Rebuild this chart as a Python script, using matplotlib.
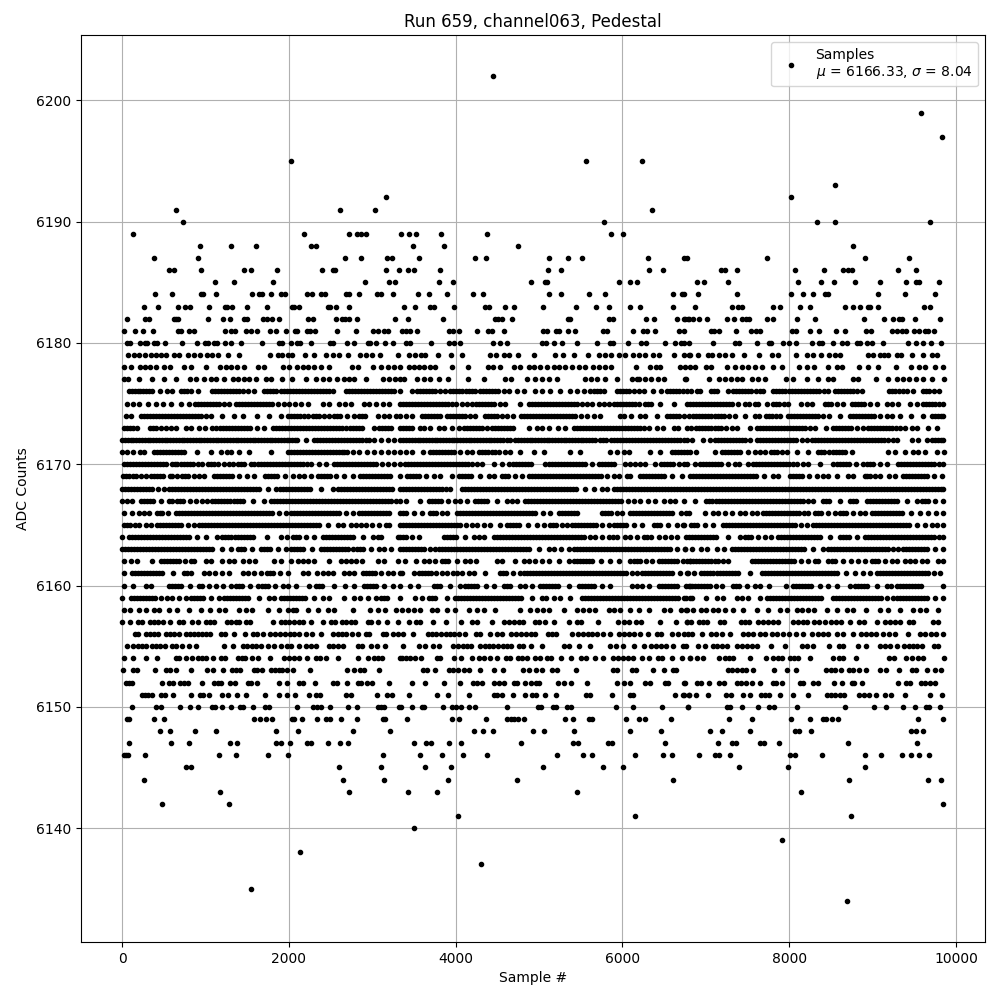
import numpy as np
import matplotlib
matplotlib.use("Agg")
import matplotlib.pyplot as plt

# sample numbers, one list per ADC level
s6202=[4444]
s6199=[9584]
s6197=[9836]
s6195=[2028,5560,6232]
s6193=[8552]
s6192=[3168,8024]
s6191=[648,2616,3036,6352]
s6190=[732,5776,8336,8552,9692]
s6189=[132,2184,2724,2816,2868,2928,3344,3436,3520,3820,4372,5860,6004]
s6188=[936,1308,1608,2268,2328,3484,3856,4744,8768]
s6187=[384,912,2676,2868,3180,3240,3556,4228,4360,5116,5344,5512,6304,6736,6772,7736,8912,9440]
s6186=[564,624,948,1464,1548,1860,2400,2532,2552,3168,3324,3424,3496,3808,5104,5260,6316,6484,7184,7232,7376,8072,8420,8648,8708,8756,9308,9524]
s6185=[1116,1344,1812,2916,3204,3268,3796,3964,4900,5068,5092,5956,6088,6172,6896,6980,7268,8108,8384,8540,8792,9092,9404,9524,9560,9800]
s6184=[396,600,948,968,1128,1560,1640,1672,1788,1908,1956,2220,2276,2388,2436,2688,2724,2844,3060,3108,3252,3544,3676,3892,4204,4324,5116,5260,5596,5788,6604,6712,6736,6908,7376,8024,8168,8288,8432,8468,9068,9392,9752]
s6183=[264,432,672,756,816,1044,1236,1264,1320,1500,1740,2040,2064,2124,2472,2496,2568,2724,3376,3508,3688,3736,3976,4348,4396,4588,4696,5044,5440,5680,5836,6088,6208,6604,6872,7316,7388,7436,7808,7892,8132,8252,8672,8768,8852,8948,8972,9068,9620,9692]
s6182=[60,272,324,624,648,672,1032,1212,1296,1464,1500,1692,1736,1800,1884,2232,2288,2568,2640,2676,2724,2816,3276,3424,3844,4468,4504,4552,4672,5344,5368,5836,5884,6280,6376,6652,6748,6796,6740,6788,6848,6920,7016,7256,7340,7436,7484,7520,7736,7808,8096,8312,8900,9140,9248,9320,9356,9512,9812]
s6181=[24,156,252,372,672,708,804,864,1236,1308,1356,1488,1548,1620,1776,1848,1968,2076,2100,2220,2256,2316,2580,2808,3012,3072,3144,3192,3356,3400,3448,3532,3916,3964,4036,4252,4384,4432,4576,5044,5092,5200,5236,5344,5428,5764,5812,6124,6244,6292,6388,6676,6736,7064,7100,7160,7364,7544,7604,7652,8036,8084,8252,8360,8564,8672,8924,8984,9236,9296,9356,9404,9500,9560,9632,9668,9740]
s6180=[60,96,216,276,300,384,420,516,720,900,996,1032,1104,1140,1236,1308,1428,1680,1884,1920,2028,2100,2136,2268,2496,2532,2700,2784,2952,2976,3048,3156,3252,3400,3448,3700,3916,3976,4048,4444,4528,4612,5032,5080,5176,5272,5452,5692,5848,5884,6064,6220,6280,6508,6628,6700,6736,6800,7088,7352,7400,7616,7760,7784,7928,8000,8084,8276,8360,8396,8528,8636,8696,8816,8852,8936,8996,9128,9428,9524,9604,9700,9820]
s6179=[72,140,208,276,344,412,470,524,624,684,792,860,936,1024,1084,1152,1272,1404,1768,1864,1912,1984,2036,2196,2304,2444,2524,2604,2712,2856,2928,2996,3096,3312,3436,3516,3584,3636,3788,3940,4072,4416,4480,4576,4644,4744,4936,5192,5284,5416,5584,5716,5788,5860,5956,6028,6124,6196,6268,6364,6436,6616,6736,6796,6808,6908,7028,7076,7156,7228,7316,7460,7640,7788,7868,8084,8208,8288,8376,8480,8548,8608,8948,9008,9088,9140,9188,9288,9336,9476,9608,9708,9768]
s6178=[24,112,216,276,336,408,504,576,744,824,1004,1176,1244,1312,1380,1456,1624,1704,1924,2004,2096,2164,2232,2304,2384,2484,2752,2832,3004,3104,3184,3264,3336,3436,3496,3556,3620,3696,3756,3952,4148,4384,4452,4528,4696,4776,4876,4944,5012,5096,5184,5236,5316,5396,5476,5556,5644,5724,5796,5864,6164,6336,6408,6456,6696,6756,6808,6868,7000,7060,7248,7348,7428,7508,7588,7668,7808,7908,8120,8216,8296,8468,8568,8628,8840,8948,9068,9280,9460,9556,9628,9748,9848]
s6177=[24,72,204,360,504,648,816,888,984,1064,1132,1224,1324,1392,1464,1524,1604,1724,1784,1920,2040,2204,2324,2404,2484,2576,2664,2724,2784,2924,3124,3196,3268,3336,3376,3536,3616,3696,3796,3904,4148,4336,4592,4664,4856,4956,5036,5116,5216,5556,5628,5700,5796,5936,6116,6176,6196,6272,6348,6424,6496,6756,6768,7036,7160,7228,7296,7368,7428,7548,7628,7708,7960,8048,8216,8348,8468,8520,8768,8828,9040,9188,9288,9360,9440,9520,9608,9708,9855]
s6176=[84,152,220,288,364,456,544,596,704,776,824,912,1084,1156,1228,1296,1364,1444,1512,1584,1704,1772,1844,1904,1976,2048,2120,2192,2264,2336,2408,2484,2532,2684,2756,2828,2900,2972,3044,3116,3188,3264,3336,3476,3536,3608,3680,3752,3876,3936,4008,4080,4160,4236,4296,4368,4440,4512,4636,4736,4816,4948,5036,5136,5248,5368,5456,5536,5616,5696,5776,5936,6008,6080,6196,6256,6364,6468,6536,6608,6680,6776,6828,6936,7068,7128,7268,7328,7400,7472,7544,7648,7688,7800,7872,7944,8000,8068,8140,8212,8284,8356,8468,8548,8620,8692,8768,8868,9200,9272,9360,9416,9480,9608,9680,9800]
s6175=[64,136,204,312,408,496,584,704,804,872,944,1016,1088,1160,1284,1368,1440,1512,1584,1656,1728,1800,1944,2004,2144,2224,2404,2484,2604,2676,2748,2904,2964,3044,3124,3204,3336,3400,3472,3544,3616,3688,3760,3832,3904,4000,4072,4136,4196,4248,4320,4392,4464,4596,4768,4876,4948,5020,5092,5164,5236,5308,5380,5452,5576,5636,5716,5836,5896,5968,6040,6112,6196,6276,6348,6456,6616,6776,6808,6880,6952,7024,7096,7168,7240,7312,7468,7520,7588,7628,7736,7808,7880,7988,8136,8208,8268,8428,8500,8648,8748,8820,8892,9048,9168,9228,9308,9448,9536,9608,9680,9752,9850]
s6174=[44,104,224,296,368,440,512,584,656,728,800,872,944,1064,1196,1336,1444,1616,1764,1904,1984,2056,2128,2224,2284,2356,2484,2536,2608,2784,2844,2916,3064,3144,3204,3284,3336,3408,3476,3596,3668,3740,3816,3896,3968,4040,4112,4236,4356,4428,4500,4616,4688,4784,4856,4928,5000,5072,5144,5216,5288,5360,5432,5576,5656,5736,5968,6016,6104,6216,6276,6416,6536,6608,6680,6796,6852,6924,6996,7068,7140,7212,7348,7468,7588,7640,7716,7788,7888,7988,8060,8132,8204,8276,8348,8472,8608,8728,8800,8872,8944,9016,9168,9228,9328,9456,9608,9708,9780,9850]
s6173=[24,96,176,336,408,524,584,644,764,824,924,996,1084,1176,1248,1320,1392,1464,1536,1704,1804,1876,1948,2020,2092,2164,2236,2308,2380,2452,2524,2596,2684,2736,2808,2880,3024,3084,3156,3228,3336,3408,3480,3576,3616,3688,3796,3856,3956,4036,4096,4168,4240,4312,4436,4476,4548,4620,4692,4876,4976,5036,5116,5224,5316,5416,5488,5560,5632,5704,5776,5848,5920,5992,6064,6136,6208,6316,6416,6488,6616,6664,6776,6828,6888,6960,7032,7104,7176,7308,7376,7528,7608,7680,7752,7824,7896,7968,8040,8112,8184,8308,8436,8520,8592,8664,8736,8888,8948,9020,9092,9164,9236,9328,9388,9468,9536,9668,9776]
s6172=[0,68,136,204,272,340,408,476,544,612,680,748,816,884,952,1020,1088,1156,1224,1292,1360,1428,1496,1564,1632,1700,1768,1836,1904,1972,2040,2096,2204,2304,2376,2448,2520,2592,2664,2736,2808,2880,2964,3024,3104,3184,3256,3336,3408,3476,3544,3612,3680,3748,3816,3884,3952,4020,4088,4156,4224,4292,4360,4428,4496,4564,4656,4716,4784,4852,4920,4988,5056,5124,5192,5260,5328,5396,5464,5532,5600,5676,5736,5808,5936,5976,6048,6120,6192,6264,6336,6408,6480,6552,6624,6696,6776,6832,6968,7056,7108,7180,7252,7324,7396,7468,7608,7648,7720,7792,7864,7936,8008,8080,8208,8268,8340,8412,8484,8556,8628,8700,8772,8844,8916,8988,9060,9132,9248,9288,9468,9548,9648,9708,9780,9850]
s6171=[4,56,136,216,264,384,456,528,600,672,744,904,1064,1184,1264,1312,1404,1524,1788,1984,2056,2128,2200,2272,2344,2416,2488,2560,2632,2700,2764,2844,2936,3024,3104,3184,3264,3336,3400,3476,3608,3688,3760,3832,3904,3976,4136,4196,4276,4348,4436,4516,4656,4776,4936,5056,5376,5496,5856,5936,6016,6076,6336,6456,6596,6668,6740,6808,6888,7108,7188,7260,7332,7404,7588,7648,7708,7776,7848,7968,8088,8228,8348,8420,8528,8600,8668,8756,9180,9268,9388,9488,9548,9628,9768,9855]
s6170=[24,96,168,240,312,384,456,528,664,704,776,848,964,1032,1104,1152,1224,1284,1324,1384,1456,1624,1664,1736,1808,1880,1952,2024,2096,2168,2264,2364,2444,2544,2616,2688,2760,2832,2904,2976,3048,3184,3264,3336,3428,3500,3572,3644,3716,3788,3860,3932,4004,4076,4148,4256,4316,4456,4556,4636,4688,4760,4832,4904,5076,5116,5188,5260,5332,5404,5476,5548,5716,5756,5828,5900,6036,6096,6156,6216,6276,6396,6468,6540,6612,6736,6776,6868,6928,6968,7040,7112,7184,7348,7400,7508,7568,7640,7712,7784,7856,7928,8000,8088,8168,8228,8368,8528,8568,8640,8712,8888,8928,9000,9168,9308,9380,9452,9524,9596,9668,9740,9850]
s6169=[16,88,164,224,284,344,416,488,664,724,796,924,984,1104,1176,1248,1320,1584,1712,1784,1856,2044,2124,2184,2264,2344,2416,2488,2764,2856,2928,3000,3072,3144,3216,3336,3416,3488,3560,3736,3816,3956,4036,4108,4180,4396,4456,4556,4628,4796,4876,4948,5020,5092,5164,5236,5308,5380,5452,5524,5596,5668,5740,5896,5956,6056,6096,6208,6280,6352,6424,6496,6716,6808,6880,6952,7024,7096,7168,7240,7312,7384,7456,7528,7600,7808,7860,8008,8080,8152,8328,8408,8468,8568,8708,8768,8908,8968,9088,9200,9268,9368,9440,9512,9584,9656,9828]
s6168=[0,72,144,216,288,360,504,564,636,708,780,852,924,996,1068,1140,1212,1284,1356,1428,1500,1572,1644,1844,1896,1968,2040,2112,2184,2256,2524,2584,2656,2728,2800,2872,2944,3016,3088,3160,3232,3336,3408,3480,3552,3624,3696,3768,3840,3936,4076,4148,4220,4292,4364,4436,4508,4580,4652,4724,4796,4868,4940,5012,5084,5156,5228,5300,5372,5444,5656,5756,5816,5896,5968,6040,6112,6184,6256,6328,6400,6472,6544,6616,6688,6760,6832,6904,6976,7048,7120,7192,7264,7336,7408,7480,7552,7624,7696,7768,7840,7912,7984,8056,8128,8200,8272,8344,8416,8488,8560,8632,8704,8776,8848,8920,8992,9064,9136,9208,9280,9352,9424,9496,9568,9640,9712,9784,9850]
s6167=[4,124,224,296,368,564,604,664,736,884,964,1024,1084,1156,1228,1300,1372,1444,1704,1784,1856,1928,2000,2072,2144,2216,2288,2360,2432,2504,2576,2648,2720,2792,2864,2936,3008,3080,3152,3224,3336,3408,3576,3676,3748,3820,3996,4048,4136,4236,4308,4380,4616,4676,4736,4836,4908,4980,5052,5124,5196,5268,5340,5412,5484,5556,5628,5700,5772,5844,5916,5988,6136,6216,6396,6496,6636,6736,6868,7008,7080,7152,7224,7296,7368,7440,7512,7584,7656,7728,7800,7872,7944,8016,8088,8160,8288,8408,8480,8608,8728,8800,8928,9000,9072,9144,9216,9288,9528,9588,9660,9848]
s6166=[24,124,204,324,416,484,552,644,716,788,860,932,1004,1076,1148,1220,1292,1364,1436,1508,1580,1652,1724,1796,1964,2024,2096,2168,2240,2312,2384,2456,2528,2600,2764,2844,2916,2988,3060,3132,3204,3336,3408,3596,3696,3768,3896,4016,4088,4160,4232,4304,4376,4448,4520,4592,4664,4736,4808,4880,4952,5136,5236,5308,5380,5452,5756,5796,5868,5996,6096,6168,6240,6312,6384,6456,6528,6600,6796,6760,6988,7088,7148,7228,7308,7408,7468,7548,7608,7688,7760,7832,7904,7976,8048,8120,8228,8308,8380,8548,8608,8680,8848,8908,8988,9060,9132,9204,9276,9348,9568,9668,9848]
s6165=[24,96,204,284,344,424,496,568,640,712,864,924,996,1068,1140,1212,1284,1356,1428,1500,1572,1644,1716,1788,1860,1932,2004,2076,2148,2220,2292,2364,2584,2644,2744,2804,2864,2924,2992,3164,3204,3336,3408,3480,3552,3624,3696,3768,3840,3912,3984,4056,4196,4256,4336,4416,4536,4616,4688,4760,4976,5056,5136,5208,5336,5396,5468,5540,5612,5684,5836,5896,5968,6040,6236,6376,6448,6656,6736,6728,6828,6900,7088,7208,7280,7352,7424,7496,7568,7640,7712,7784,7856,7928,8000,8072,8208,8288,8360,8432,8504,8576,8648,8720,8792,8864,8936,9008,9080,9152,9224,9296,9368,9440,9628,9708,9848]
s6164=[0,84,156,228,300,372,444,516,588,660,732,804,1004,1136,1204,1276,1348,1420,1492,1564,1904,2044,2116,2304,2412,2484,2556,2628,2700,2772,3004,3064,3104,3312,3336,3408,3556,3856,3928,4000,4216,4276,4336,4456,4528,4600,4672,4744,4816,4888,4960,5032,5104,5176,5248,5320,5392,5464,5536,5676,5756,5836,5936,6036,6096,6176,6256,6436,6516,6588,6660,6760,6832,6904,6976,7048,7120,7408,7468,7540,7708,7776,7868,7940,8012,8084,8156,8228,8300,8372,8608,8648,8720,8908,8948,9020,9092,9164,9236,9308,9380,9452,9524,9596,9668,9740,9850]
s6163=[4,76,148,220,292,364,436,508,580,652,724,796,868,940,1012,1084,1304,1384,1456,1664,1704,1776,1964,2024,2096,2168,2384,2424,2496,2568,2640,2712,2816,2888,3084,3144,3224,3336,3408,3480,3552,3624,3756,3796,3868,3940,4012,4084,4156,4228,4300,4372,4444,4516,4588,4660,4732,4804,4876,5116,5176,5356,5416,5488,5560,5632,5704,5776,5848,5920,5992,6064,6136,6208,6280,6352,6424,6496,6568,6756,6748,6840,6948,7020,7128,7216,7308,7380,7452,7524,7596,7668,7740,7812,7884,7956,8028,8100,8172,8408,8468,8540,8612,8684,8756,8828,8900,8972,9044,9116,9188,9308,9368,9440,9512,9584,9656,9850]
s6162=[24,104,184,364,464,536,608,680,824,864,1004,1064,1204,1284,1344,1444,1516,1588,1824,1904,2024,2104,2164,2224,2296,2484,2624,2684,2744,2804,2876,3064,3144,3304,3396,3524,3616,3676,3756,3836,3908,4116,4176,4248,4496,4556,4708,4816,4876,4956,5036,5116,5236,5356,5416,5488,5560,5632,5856,5956,6096,6136,6208,6356,6436,6508,6580,6652,6808,6780,6852,6924,6996,7068,7140,7268,7548,7620,7692,7764,7836,7908,7980,8052,8228,8308,8348,8468,8508,8648,8828,8908,8988,9060,9228,9296,9388,9508,9588,9648,9788,9848]
s6161=[24,124,196,268,340,412,484,744,824,984,1044,1116,1284,1444,1584,1664,1736,1808,1984,2164,2224,2336,2404,2464,2524,2664,2724,2784,2884,2956,3028,3184,3244,3336,3356,3496,3556,3628,3700,3836,3896,3968,4076,4156,4216,4356,4536,4608,4776,4824,4896,4968,5040,5112,5184,5256,5328,5400,5472,5544,5616,5688,5760,5832,5904,5976,6048,6176,6236,6308,6380,6452,6524,6596,6776,6788,6860,6948,7020,7092,7164,7236,7308,7380,7668,7708,7780,7852,7924,7996,8068,8140,8212,8284,8356,8428,8500,8572,8788,8888,9048,9088,9160,9232,9304,9376,9448,9520,9592,9664,9808]
s6160=[24,136,284,352,564,636,708,924,964,1044,1124,1304,1364,1436,1624,1672,1744,1924,1992,2084,2244,2324,2396,2544,2676,2784,2904,2976,3048,3244,3336,3456,3548,3736,3808,4056,4116,4188,4260,4456,4576,4648,4776,4836,4916,5016,5088,5160,5232,5476,5516,5588,5660,5856,6116,6176,6236,6316,6436,6508,6580,6652,6808,6760,6832,6904,6976,7048,7188,7328,7400,7588,7648,7760,7960,8048,8120,8192,8264,8468,8568,8728,8788,8860,8932,9168,9216,9288,9360,9432,9504,9576,9848]
s6159=[0,104,176,248,320,392,544,604,764,824,896,968,1164,1224,1296,1368,1440,1512,1764,1824,1904,1976,2048,2120,2192,2404,2484,2664,2784,2856,3044,3104,3176,3336,3516,3596,3676,3748,3896,3996,4068,4140,4212,4284,4356,4428,4500,4572,4644,4716,4788,5036,5084,5176,5248,5376,5516,5588,5660,5732,5804,5876,5948,6020,6092,6164,6236,6308,6380,6452,6524,6596,6668,6808,6768,6840,7008,7128,7200,7368,7428,7500,7648,7728,7800,7872,7944,8016,8088,8160,8232,8304,8376,8528,8600,8672,8744,8816,8888,8960,9032,9104,9248,9288,9360,9432,9504,9576,9648,9850]
s6158=[24,96,204,284,384,444,564,656,804,944,1056,1164,1236,1404,1484,1556,1744,1884,1984,2044,2084,2224,2344,2464,2536,2772,2976,3064,3156,3284,3356,3428,3500,3572,3716,3776,3896,3996,4156,4256,4336,4476,4768,4888,4976,5048,5120,5296,5456,5528,5600,5672,5836,5896,5968,6096,6196,6316,6496,6576,6776,6708,6768,6848,6948,7008,7088,7148,7228,7328,7448,7616,7748,7888,7968,8088,8148,8220,8292,8448,8568,8688,8768,8920,9088,9188,9328,9488,9568,9640,9788]
s6157=[0,96,192,240,336,384,432,492,576,684,732,840,912,1008,1056,1104,1260,1308,1368,1404,1488,1536,1812,1908,1956,2004,2064,2124,2172,2268,2412,2508,2556,2640,2688,2748,2796,2952,2988,3072,3180,3312,3436,3520,3568,3724,3880,4060,4192,4252,4432,4576,4636,4696,4756,4804,4948,4996,5068,5176,5356,5452,5500,5704,5944,6016,6076,6160,6220,6448,6640,6772,6776,6824,6920,6968,7016,7172,7220,7424,7472,7520,7628,7688,7748,7808,7868,8048,8108,8168,8216,8300,8360,8432,8504,8564,8624,8732,8840,8900,9056,9152,9212,9272,9332,9440,9488,9728,9788]
s6156=[156,192,288,336,384,432,528,576,624,684,768,816,864,912,960,1008,1056,1188,1236,1336,1476,1572,1620,1692,1776,1836,1896,1956,2016,2064,2124,2208,2280,2388,2532,2592,2640,2688,2760,2832,2928,2964,3132,3168,3252,3312,3364,3484,3664,3712,3760,3820,3880,3928,3976,4036,4108,4240,4288,4408,4492,4552,4660,4720,4780,4840,4900,4948,5104,5152,5200,5392,5464,5524,5584,5632,5692,5764,5848,5956,6016,6076,6136,6208,6304,6412,6460,6592,6664,6736,6784,6836,6956,7064,7124,7196,7292,7448,7508,7568,7652,7712,7796,7856,7928,8000,8084,8168,8276,8348,8408,8468,8576,8648,8768,8864,8924,8984,9044,9128,9200,9272,9424,9572,9632,9704,9764,9848]
s6155=[60,132,192,240,288,360,408,456,516,600,648,720,804,888,1224,1332,1452,1500,1560,1608,1668,1752,1824,1908,1980,2028,2124,2208,2268,2328,2484,2532,2592,2652,2832,2880,2988,3060,3156,3364,3556,3628,3724,3796,3964,4024,4084,4132,4180,4288,4348,4396,4444,4504,4564,4612,4660,4756,4804,4900,5032,5296,5356,5476,5608,5848,5920,6004,6136,6256,6340,6400,6460,6520,6604,6724,6760,6908,6992,7088,7136,7196,7256,7376,7436,7496,7556,7616,7784,7952,8156,8216,8288,8480,8600,8648,8828,8924,9092,9152,9212,9296,9380,9440,9488,9536,9596,9740,9788]
s6154=[24,132,288,420,648,684,768,840,912,960,1008,1092,1188,1236,1392,1440,1476,1560,1632,1776,1944,2004,2064,2124,2220,2328,2376,2448,2592,2832,2952,3024,3072,3120,3336,3356,3400,3448,3508,3580,3772,3808,3976,4060,4192,4276,4336,4408,4492,4600,4648,4744,4792,4852,4948,5008,5092,5140,5260,5380,5500,5560,5668,5764,5884,5944,6004,6064,6124,6232,6316,6424,6472,6592,6712,6808,6812,6896,6968,7160,7232,7280,7328,7532,7724,7808,7868,7916,8012,8060,8108,8252,8528,8600,8648,8804,9200,9260,9404,9476,9548,9608,9855]
s6153=[12,132,180,396,528,576,648,828,1020,1092,1212,1320,1368,1416,1584,1620,1680,1788,1836,1884,1920,1980,2052,2256,2700,2784,2856,2904,3084,3604,3652,3748,3916,3964,4024,4096,4156,4288,4456,4564,4804,4876,4960,5032,5152,5212,5440,5884,5932,6112,6160,6364,6496,6604,6640,7268,7316,7376,7436,7484,7568,7820,7976,8084,8444,8504,8552,8620,8720,8768,8840,8924,9092,9164,9320,9476,9524,9656,9752,9824]
s6152=[48,84,120,480,564,612,696,744,792,960,1104,1152,1188,1296,1356,1512,1548,1620,1884,1980,2124,2172,2316,2532,2580,2700,2832,2868,2940,3000,3204,3472,3628,3856,4048,4204,4252,4312,4456,4516,4576,4696,4732,4828,4900,4960,4996,5224,5296,5380,5572,5932,6016,6088,6268,6328,6508,6544,6748,6740,6896,6944,7040,7160,7220,7376,7424,7484,7556,7652,7808,7844,7916,8132,8168,8288,8348,8540,8636,8756,8780,8876,9308,9404,9452,9584,9632,9692,9752]
s6151=[240,276,312,360,468,516,612,828,936,972,1044,1200,1272,1380,1488,1716,1884,1980,2076,2244,2328,2376,2688,2748,3060,3180,3240,3436,3772,3904,4156,4456,4492,4552,4684,4828,4912,4960,5068,5200,5560,5608,5872,6088,6124,6628,6736,6796,6728,6800,6884,7028,7244,7304,7448,7532,7664,7712,7760,7892,8048,8228,8456,8504,8552,8612,8660,8840,8900,8960,9044,9152,9224,9392,9692,9836]
s6150=[120,408,468,696,816,912,1080,1116,1200,1308,1416,1452,1572,1716,1764,2100,2292,2340,2388,2496,2712,2820,3072,3108,3144,3324,3340,3472,3592,3616,3844,3952,4000,4060,4156,4228,4612,4984,5020,5164,5200,5332,5380,5920,6124,6472,6784,6788,7256,7292,7436,7624,7760,7820,8096,8672,9020,9164,9368,9512,9644,9680,9812]
s6149=[60,84,384,504,1584,1656,1728,1800,2040,2064,2160,2340,2448,2496,2628,2820,3132,3156,3412,3952,4036,4360,4612,4660,4696,4744,4816,5308,5404,5596,5632,6040,6196,6268,6580,7280,7556,8024,8252,8408,8444,8516,8588,9548,9848]
s6148=[456,576,876,1128,1848,2112,2772,3216,4216,4324,4444,4924,5056,5416,6088,6460,7052,7196,7532,8072,8120,8264,9464,9524,9608]
s6147=[84,588,804,1296,1380,1848,1908,2016,2220,2268,2472,2616,2712,3496,3640,3700,3916,4060,4780,5404,5464,5824,5872,6508,7148,7316,7364,7652,7700,7880,8708,9536]
s6146=[24,48,72,276,1164,1368,1752,1992,3132,3568,3832,4084,4372,5212,5524,5632,6148,6484,6592,6920,7112,7160,7292,8012,8072,8396,8912,9104,9356,9464,9560,9680]
s6145=[768,828,2604,3108,3628,3940,5044,5764,6004,7400,7988,8912]
s6144=[264,2652,3144,3904,4732,6604,8720,9668,9824]
s6143=[1176,2724,3424,3772,5452,8144]
s6142=[480,1284,9848]
s6141=[4024,6156,8744]
s6140=[3496]
s6139=[7916]
s6138=[2136]
s6137=[4300]
s6135=[1548]
s6134=[8696]

# second reading of the solid stretches in the busiest rows
d6176=[118,186,254,326,748,1120,1192,1262,1330,1404,1738,1808,1940,2012,2084,2156,2228,2300,2372,2446,2720,2792,2864,2936,3008,3080,3152,3226,3572,3644,3716,3814,3972,4044,4120,4198,4332,4404,4476,4574,5656,5736,5972,6044,6138,6572,6644,6728,6900,7100,7364,7436,7508,7596,7836,7908,8034,8104,8176,8248,8320,8412,8584,8656,8730,8818,9236,9316,9644,9740]
d6175=[908,980,1052,1124,1222,1404,1476,1548,1620,1692,1764,1872,2074,3368,3436,3508,3580,3652,3724,3796,3868,3952,4284,4356,4428,4530,4912,4984,5056,5128,5200,5272,5344,5416,5514,5776,5932,6004,6076,6154,6312,6844,6916,6988,7060,7132,7204,7276,7390,7844,7934,8464,8574,8784,8856,8970,9644,9716,9800]
d6174=[260,332,404,476,548,620,692,764,836,908,1004,2020,2092,2176,2320,2420,2572,2696,2880,3632,3704,3778,3932,4004,4076,4174,4392,4464,4558,4820,4892,4964,5036,5108,5180,5252,5324,5396,5504,6572,6644,6738,6888,6960,7032,7104,7176,7280,7752,7838,8024,8096,8168,8240,8312,8410,8764,8836,8908,8980,9092,9744,9815]
d6173=[60,136,372,466,1128,1212,1284,1356,1428,1500,1620,1840,1912,1984,2056,2128,2200,2272,2344,2416,2488,2560,2640,2772,2844,3120,3192,3370,3444,4132,4204,4276,4374,4512,4584,4656,5452,5524,5596,5668,5740,5812,5884,5956,6028,6100,6172,6262,6924,6996,7068,7140,7242,7644,7716,7788,7860,7932,8004,8076,8148,8246,8556,8628,8700,8812,8984,9056,9128,9200,9282]
d6172=[34,102,170,238,306,374,442,510,578,646,714,782,850,918,986,1054,1122,1190,1258,1326,1394,1462,1530,1598,1666,1734,1802,1870,1938,2006,2070,2340,2412,2484,2556,2628,2700,2772,2844,2920,3372,3442,3510,3578,3646,3714,3782,3850,3918,3986,4054,4122,4190,4258,4326,4394,4462,4530,4610,4750,4818,4886,4954,5022,5090,5158,5226,5294,5362,5430,5498,5566,5638,5770,5860,5900,6012,6084,6156,6228,6300,6372,6444,6516,6588,6660,6736,7144,7216,7288,7360,7432,7530,7684,7756,7828,7900,7972,8044,8150,8304,8376,8448,8520,8592,8664,8736,8808,8880,8952,9024,9096,9190,9744,9815]
d6171=[420,492,564,636,708,2020,2092,2164,2236,2308,2380,2452,2524,2596,2666,3724,3796,3868,3940,4056,4312,4392,4476,4596,6632,6704,6776,7224,7296,7368,7500,7812,7908,8384,8474,8564,8634]
d6170=[60,132,204,276,348,420,492,596,630,740,812,906,1068,1420,1540,1582,1700,1772,1844,1916,1988,2060,2132,2216,2580,2652,2724,2796,2868,2940,3012,3116,3392,3464,3536,3608,3680,3752,3824,3896,3968,4040,4112,4202,4724,4796,4868,5152,5224,5296,5368,5440,5512,5632,5792,5864,6504,6576,6676,7004,7076,7148,7266,7604,7676,7748,7820,7892,7964,8044,8604,8676,8800,8964,9084,9344,9416,9488,9560,9632,9704,9795]
d6169=[52,126,380,452,576,600,760,860,1140,1212,1284,1400,1500,1748,1820,1950,2380,2452,2560,2660,2892,2964,3036,3108,3180,3452,3524,3650,4072,4144,4288,4592,4712,4912,4984,5056,5128,5200,5272,5344,5416,5488,5560,5632,5704,5818,6244,6316,6388,6460,6600,6844,6916,6988,7060,7132,7204,7276,7348,7420,7492,7564,7700,8044,8116,8240,8938,9028,9404,9476,9548,9620,9740]
d6168=[36,108,180,252,324,432,600,672,744,816,888,960,1032,1104,1176,1248,1320,1392,1464,1536,1608,1744,1932,2004,2076,2148,2220,2390,2620,2692,2764,2836,2908,2980,3052,3124,3196,3372,3444,3516,3588,3660,3732,3804,3888,4112,4184,4256,4328,4400,4472,4544,4616,4688,4760,4832,4904,4976,5048,5120,5192,5264,5336,5408,5550,5932,6004,6076,6148,6220,6292,6364,6436,6508,6580,6652,6724,6796,6868,6940,7012,7084,7156,7228,7300,7372,7444,7516,7588,7660,7732,7804,7876,7948,8020,8092,8164,8236,8308,8380,8452,8524,8596,8668,8740,8812,8884,8956,9028,9100,9172,9244,9316,9388,9460,9532,9604,9676,9748,9818]
d6167=[64,260,332,464,700,810,1120,1192,1264,1336,1408,1574,1820,1892,1964,2036,2108,2180,2252,2324,2396,2468,2540,2612,2684,2756,2828,2900,2972,3044,3116,3188,3280,3712,3784,3908,4272,4344,4498,4872,4944,5016,5088,5160,5232,5304,5376,5448,5520,5592,5664,5736,5808,5880,5952,6062,6306,6566,7044,7116,7188,7260,7332,7404,7476,7548,7620,7692,7764,7836,7908,7980,8052,8124,8224,8444,8764,8964,9036,9108,9180,9252,9408,9624,9754]
d6166=[264,450,680,752,824,896,968,1040,1112,1184,1256,1328,1400,1472,1544,1616,1688,1760,1880,2060,2132,2204,2276,2348,2420,2492,2564,2682,2880,2952,3024,3096,3168,3372,3500,3732,3832,4052,4124,4196,4268,4340,4412,4484,4556,4628,4700,4772,4844,4916,5044,5272,5344,5416,5832,5932,6132,6204,6276,6348,6420,6492,6564,6700,7724,7796,7868,7940,8012,8084,8174,8344,8464,8644,8764,9024,9096,9168,9240,9312,9458,9758]
d6165=[60,150,460,532,604,676,788,960,1032,1104,1176,1248,1320,1392,1464,1536,1608,1680,1752,1824,1896,1968,2040,2112,2184,2256,2328,2474,3078,3372,3444,3516,3588,3660,3732,3804,3876,3948,4020,4126,4652,4724,4868,5172,5272,5432,5504,5576,5648,5760,5932,6004,6138,6412,6552,6864,6994,7244,7316,7388,7460,7532,7604,7676,7748,7820,7892,7964,8036,8140,8324,8396,8468,8540,8612,8684,8756,8828,8900,8972,9044,9116,9188,9260,9332,9404,9534,9778]
d6164=[120,192,264,336,408,480,552,624,696,768,904,1240,1312,1384,1456,1528,1734,1974,2080,2210,2448,2520,2592,2664,2736,2888,3372,3482,3892,3964,4108,4492,4564,4636,4708,4780,4852,4924,4996,5068,5140,5212,5284,5356,5428,5500,5606,5886,6296,6346,6796,6868,6940,7012,7084,7264,7504,7624,7904,7976,8048,8120,8192,8264,8336,8490,8684,8814,8984,9056,9128,9200,9272,9344,9416,9488,9560,9632,9704,9795]
d6163=[40,112,184,256,328,400,472,544,616,688,760,832,904,976,1048,1194,1420,1560,1740,1870,2060,2132,2276,2460,2532,2604,2676,2764,2852,2986,3372,3444,3516,3588,3690,3832,3904,3976,4048,4120,4192,4264,4336,4408,4480,4552,4624,4696,4768,4840,4996,5266,5452,5524,5596,5668,5740,5812,5884,5956,6028,6100,6172,6244,6316,6388,6460,6532,6660,7344,7416,7488,7560,7632,7704,7776,7848,7920,7992,8064,8136,8290,8504,8576,8648,8720,8792,8864,8936,9008,9080,9152,9248,9404,9476,9548,9620,9750]
d6162=[500,572,644,750,3872,4012,5452,5524,5596,5744,6172,6282,6472,6544,6616,6730,6816,6888,6960,7032,7104,7204,7584,7656,7728,7800,7872,7944,8016,8140,8552,8738,9024,9144,9448]
d6161=[160,232,304,376,448,614,784,1200,1514,1772,1896,2920,2992,3106,3592,3664,3768,4022,4572,4692,4860,4932,5004,5076,5148,5220,5292,5364,5436,5508,5580,5652,5724,5796,5868,5940,6012,6112,6272,6344,6416,6488,6560,6686,6984,7056,7128,7200,7272,7344,7524,7744,7816,7888,7960,8032,8104,8176,8248,8320,8392,8464,8536,8680,8968,9124,9196,9268,9340,9412,9484,9556,9628,9736]
d6160=[600,672,816,1214,1400,1530,1708,1834,2360,2940,3012,3146,3772,3932,4152,4224,4358,4612,5052,5124,5196,5354,5552,5624,5758,6472,6544,6616,6796,6868,6940,7012,7118,7364,7494,8084,8156,8228,8366,8824,8896,9050,9324,9396,9468,9540]
d6159=[140,212,284,356,468,684,860,932,1066,1260,1332,1404,1476,1638,1940,2012,2084,2156,2298,2950,3140,3712,4032,4104,4176,4248,4320,4392,4464,4536,4608,4680,4752,4912,5552,5624,5696,5768,5840,5912,5984,6056,6128,6200,6272,6344,6416,6488,6560,6632,6738,7764,7836,7908,7980,8052,8124,8196,8268,8340,8564,8636,8708,8780,8852,8924,8996,9068,9176,9324,9396,9468,9540,9612,9750]

levels=[6202,6199,6197,6195,6193,6192,6191,6190,6189,6188,6187,6186,6185,6184,6183,6182,6181,6180,6179,6178,6177,6176,6175,6174,6173,6172,6171,6170,6169,6168,6167,6166,6165,6164,6163,6162,6161,6160,6159,6158,6157,6156,6155,6154,6153,6152,6151,6150,6149,6148,6147,6146,6145,6144,6143,6142,6141,6140,6139,6138,6137,6135,6134]
rows=[s6202,s6199,s6197,s6195,s6193,s6192,s6191,s6190,s6189,s6188,s6187,s6186,s6185,s6184,s6183,s6182,s6181,s6180,s6179,s6178,s6177,s6176,s6175,s6174,s6173,s6172,s6171,s6170,s6169,s6168,s6167,s6166,s6165,s6164,s6163,s6162,s6161,s6160,s6159,s6158,s6157,s6156,s6155,s6154,s6153,s6152,s6151,s6150,s6149,s6148,s6147,s6146,s6145,s6144,s6143,s6142,s6141,s6140,s6139,s6138,s6137,s6135,s6134]
dense_levels=[6176,6175,6174,6173,6172,6171,6170,6169,6168,6167,6166,6165,6164,6163,6162,6161,6160,6159]
dense_rows=[d6176,d6175,d6174,d6173,d6172,d6171,d6170,d6169,d6168,d6167,d6166,d6165,d6164,d6163,d6162,d6161,d6160,d6159]

x=np.concatenate([np.array(r) for r in rows+dense_rows])
y=np.concatenate([np.full(len(r),l) for l,r in zip(levels+dense_levels,rows+dense_rows)])

fig,ax=plt.subplots(figsize=(10,10))
ax.plot(x,y,"k.",label="Samples\n$\\mu$ = 6166.33, $\\sigma$ = 8.04")
ax.set_title("Run 659, channel063, Pedestal")
ax.set_xlabel("Sample #")
ax.set_ylabel("ADC Counts")
ax.ticklabel_format(useOffset=False,style="plain")
ax.grid(True)
ax.legend(loc="upper right")
fig.subplots_adjust(left=.081,right=.985,top=.965,bottom=.058)
fig.savefig("out.png",dpi=100)
